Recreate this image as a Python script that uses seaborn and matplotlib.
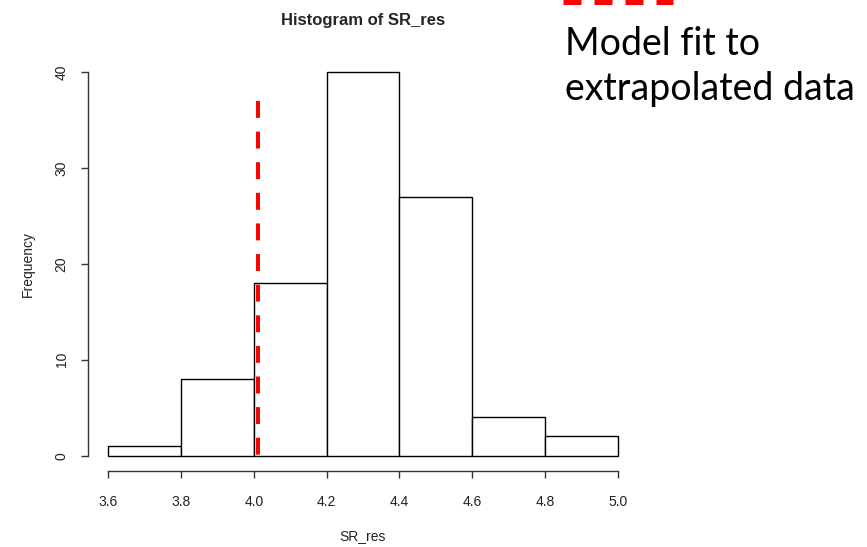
import matplotlib
matplotlib.use("Agg")
import matplotlib.pyplot as plt
import seaborn as sns
import numpy as np
import pandas as pd

bin_edges = [3.6, 3.8, 4.0, 4.2, 4.4, 4.6, 4.8, 5.0]
counts = [1, 8, 18, 40, 27, 4, 2]
fit_x = 4.01
fit_top = 37
x_ticks = [3.6, 3.8, 4.0, 4.2, 4.4, 4.6, 4.8, 5.0]
y_ticks = [0, 10, 20, 30, 40]

sns.set_style("white")
plt.rcParams['font.family'] = ['Liberation Sans', 'DejaVu Sans']

centers = [(a + b) / 2 for a, b in zip(bin_edges[:-1], bin_edges[1:])]
df = pd.DataFrame({"SR_res": centers, "w": counts})

fig = plt.figure(figsize=(8.67, 5.47), dpi=100)
ax = fig.add_axes([88/867, 1-471/547, (638-88)/867, (471-56.7)/547])

sns.histplot(data=df, x="SR_res", weights="w", bins=bin_edges, ax=ax,
             color="white", edgecolor="black", linewidth=1.0, alpha=1)

ax.plot([fit_x, fit_x], [fit_top, 0], color="#ff0000", lw=2.9,
        linestyle=(0, (4.2, 3.4)), solid_capstyle="butt", dash_capstyle="butt")

ax.set_xlim(3.544, 5.056)
ax.set_ylim(-1.6, 41.6)
for s in ["top", "right"]:
    ax.spines[s].set_visible(False)
for s in ["left", "bottom"]:
    ax.spines[s].set_color("#333333")
    ax.spines[s].set_linewidth(1.0)
ax.spines["left"].set_bounds(0, 40)
ax.spines["bottom"].set_bounds(3.6, 5.0)
ax.set_xticks(x_ticks)
ax.set_xticklabels([f"{t:.1f}" for t in x_ticks])
ax.set_yticks(y_ticks)
ax.set_yticklabels([str(t) for t in y_ticks], rotation=90, va="center")
ax.tick_params(axis="both", direction="out", length=5, width=1, color="#333333",
               labelsize=10, labelcolor="#222222", left=True, bottom=True)
ax.tick_params(axis="x", pad=12)
ax.tick_params(axis="y", pad=9)
ax.set_xlabel("SR_res", fontsize=10, color="#222222", labelpad=15)
ax.set_ylabel("Frequency", fontsize=10, color="#222222", labelpad=14)
ax.set_title("Histogram of SR_res", fontsize=12, fontweight="bold", pad=23)

# annotation legend
fig.add_artist(plt.Line2D([563/867, 673/867], [1-2/547, 1-2/547], color="#ff0000",
                          lw=3.6, linestyle=(0, (3.6, 2.6)), dash_capstyle="butt",
                          transform=fig.transFigure))
fig.text(565/867, 1-55/547, "Model fit to", fontsize=27, color="black",
         family=["Lato", "DejaVu Sans"], va="baseline")
fig.text(565/867, 1-100/547, "extrapolated data", fontsize=27, color="black",
         family=["Lato", "DejaVu Sans"], va="baseline")

fig.savefig("out.png", dpi=100)
